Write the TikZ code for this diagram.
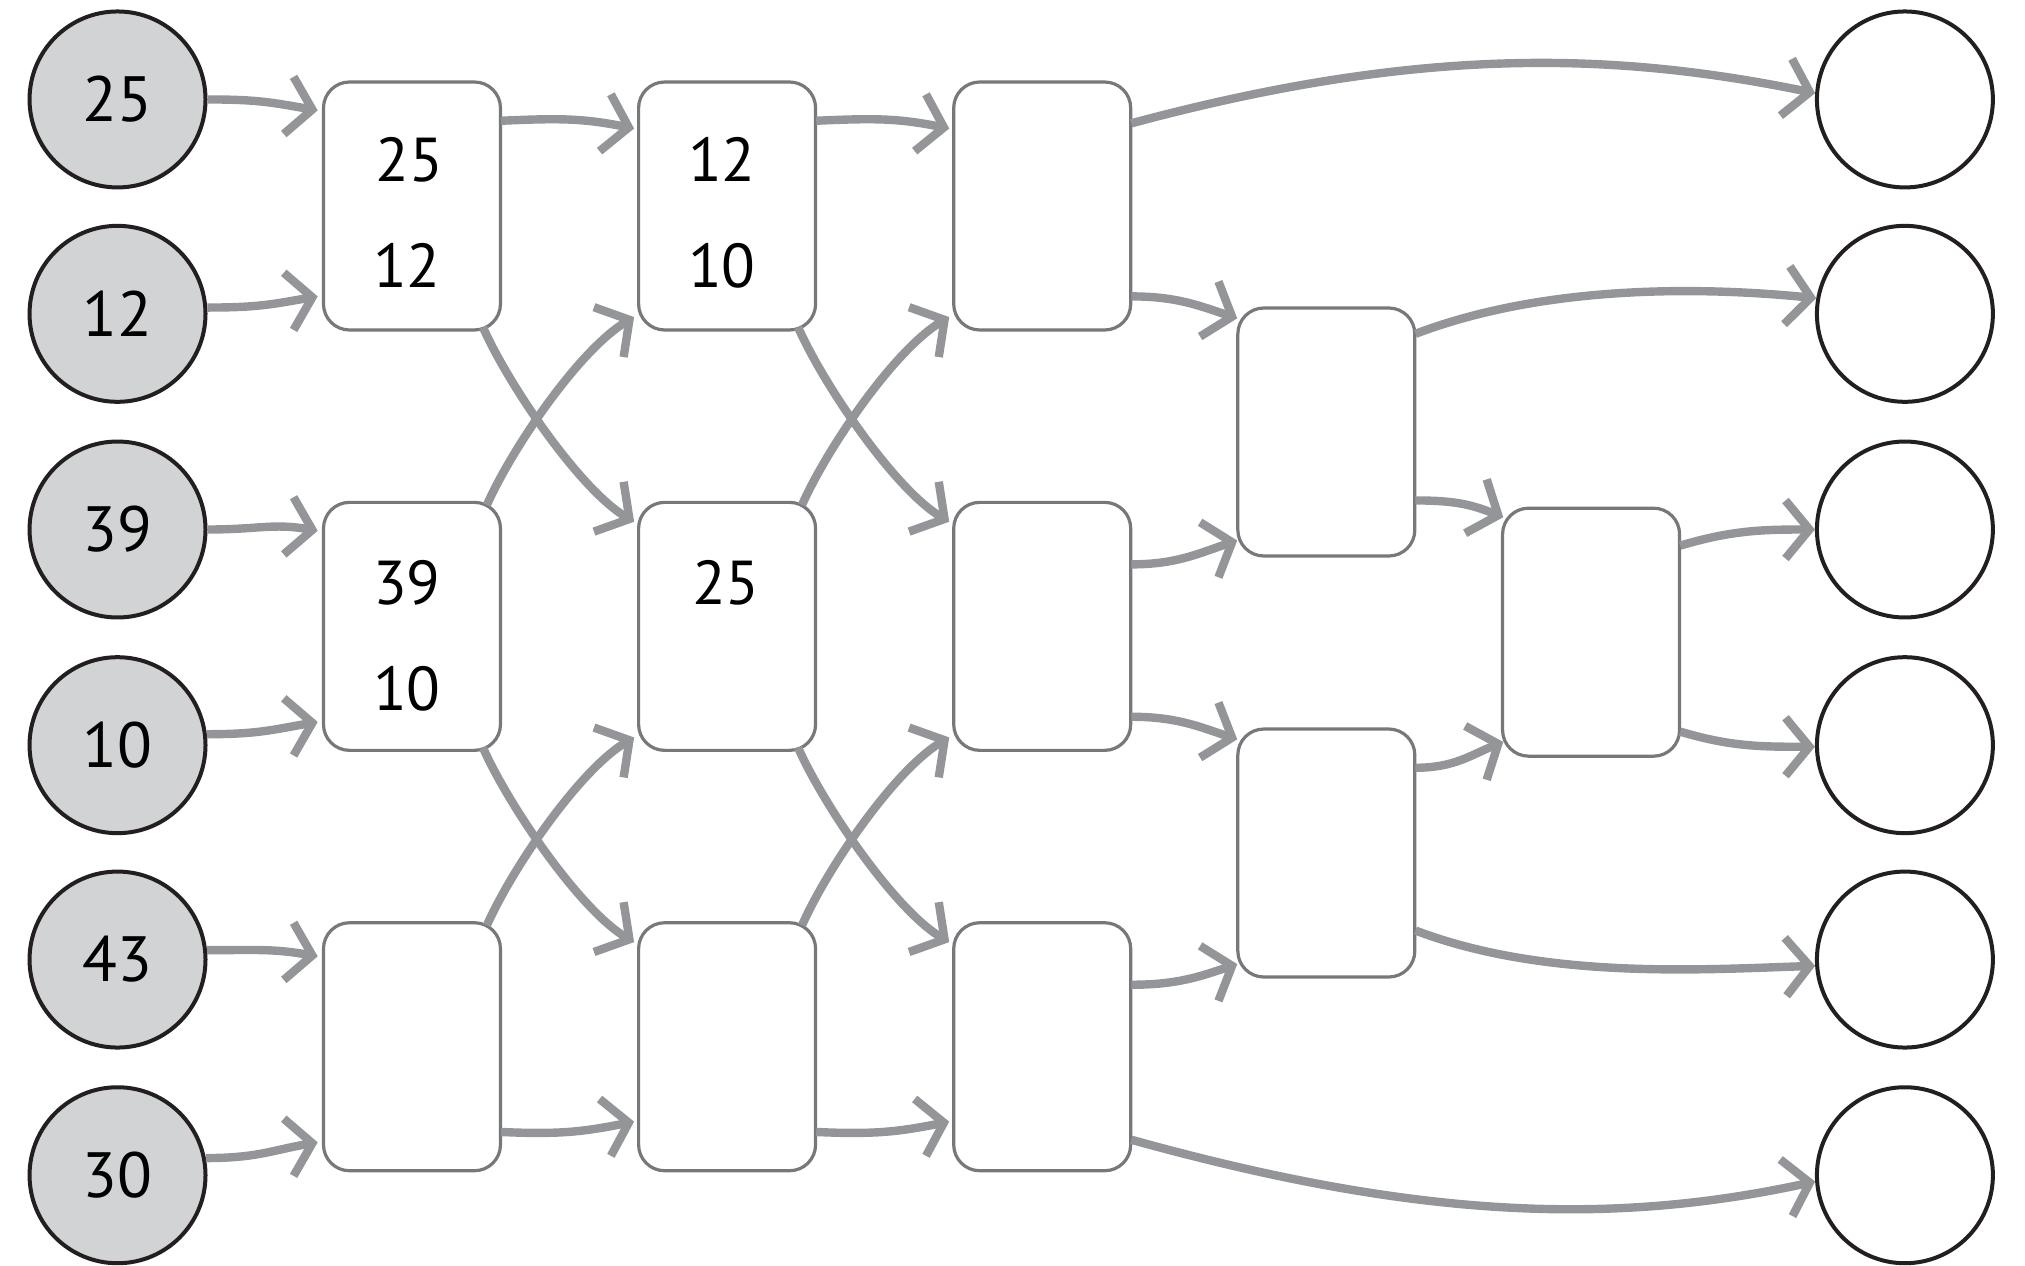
\documentclass[tikz,border=0pt]{standalone}
\usepackage{fontspec}
\setmainfont{PT Sans}
\usetikzlibrary{arrows.meta,calc}
\definecolor{arr}{HTML}{939598}
\definecolor{boxc}{HTML}{77787B}
\definecolor{cfill}{HTML}{D1D3D4}
\definecolor{cline}{HTML}{231F20}
\begin{document}
\begin{tikzpicture}[x=0.6458pt,y=-0.6458pt,
  inball/.style={circle,draw=cline,line width=2pt,fill=cfill,minimum size=88pt,inner sep=0pt,font=\fontsize{32}{36}\selectfont},
  outball/.style={circle,draw=cline,line width=2pt,fill=white,minimum size=88pt,inner sep=0pt},
  sbox/.style={rectangle,rounded corners=13pt,draw=boxc,line width=1.6pt,fill=white,minimum width=88.5pt,minimum height=124pt,inner sep=0pt},
  num/.style={font=\fontsize{31}{36}\selectfont,inner sep=0pt},
  conn/.style={draw=arr,line width=4.2pt,-{Straight Barb[length=12pt,width=29pt]}}]
\useasboundingbox (0,0) rectangle (1568,980);
% input circles
\node[inball] (in1) at (91,77) {25};
\node[inball] (in2) at (91,243) {12};
\node[inball] (in3) at (91,410) {39};
\node[inball] (in4) at (91,577) {10};
\node[inball] (in5) at (91,743) {43};
\node[inball] (in6) at (91,910) {30};
% output circles
\node[outball] (out1) at (1475,77) {};
\node[outball] (out2) at (1475,243) {};
\node[outball] (out3) at (1475,410) {};
\node[outball] (out4) at (1475,577) {};
\node[outball] (out5) at (1475,743) {};
\node[outball] (out6) at (1475,910) {};
% boxes
\node[sbox] (a1) at (319,159.5) {};
\node[sbox] (a2) at (319,485) {};
\node[sbox] (a3) at (319,810.5) {};
\node[sbox] (b1) at (563,159.5) {};
\node[sbox] (b2) at (563,485) {};
\node[sbox] (b3) at (563,810.5) {};
\node[sbox] (c1) at (807,159.5) {};
\node[sbox] (c2) at (807,485) {};
\node[sbox] (c3) at (807,810.5) {};
\node[sbox] (d1) at (1027,334.5) {};
\node[sbox] (d2) at (1027,660.5) {};
\node[sbox] (e1) at (1232,489.5) {};
% box texts
\node[num] (ta1) at ($(a1)+(-2,-36)$) {25};
\node[num] (ta2) at ($(a1)+(-4,46)$) {12};
\node[num] (tb1) at ($(b1)+(-4,-36)$) {12};
\node[num] (tb2) at ($(b1)+(-4,46)$) {10};
\node[num] (tc1) at ($(a2)+(-4,-34)$) {39};
\node[num] (tc2) at ($(a2)+(-4,48)$) {10};
\node[num] (td1) at ($(b2)+(-1,-34)$) {25};
% inputs to first column
\draw[conn] (in1.0) .. controls +(40,0) and +(-35,-6) .. ($(a1)+(-73,-74)$);
\draw[conn] (in2.4) .. controls +(40,0) and +(-35,6) .. ($(a1)+(-73,70)$);
\draw[conn] (in3.0) .. controls +(40,0) and +(-35,-6) .. ($(a2)+(-73,-74)$);
\draw[conn] (in4.7) .. controls +(40,0) and +(-35,6) .. ($(a2)+(-73,74)$);
\draw[conn] (in5.6) .. controls +(40,0) and +(-35,-6) .. ($(a3)+(-73,-70)$);
\draw[conn] (in6.11) .. controls +(40,0) and +(-35,6) .. ($(a3)+(-73,74)$);
% column to column (butterfly)
\foreach \p/\q in {a/b,b/c} {
  \draw[conn] ($(\p1)+(69,-66)$) .. controls +(45,-2) and +(-40,-8) .. ($(\q1)+(-72,-60)$);
  \draw[conn] ($(\p3)+(69,66)$) .. controls +(45,2) and +(-40,8) .. ($(\q3)+(-72,58)$);
  \draw[conn] ($(\p1)+(55,94)$) .. controls +(20,45) and +(-42,-25) .. ($(\q2)+(-72,-81)$);
  \draw[conn] ($(\p2)+(55,94)$) .. controls +(20,45) and +(-42,-25) .. ($(\q3)+(-72,-81)$);
  \draw[conn] ($(\p2)+(58,-94)$) .. controls +(20,-45) and +(-42,25) .. ($(\q1)+(-72,86)$);
  \draw[conn] ($(\p3)+(58,-94)$) .. controls +(20,-45) and +(-42,25) .. ($(\q2)+(-72,86)$);
}
% third column onwards
\draw[conn] ($(c1)+(69,-64)$) .. controls +(223,-60) and +(-156,-32) .. (out1.176);
\draw[conn] ($(c3)+(69,72)$) .. controls +(223,62) and +(-156,34) .. (out6.184);
\draw[conn] ($(c1)+(69,70)$) .. controls +(35,0) and +(-30,-10) .. ($(d1)+(-69,-88)$);
\draw[conn] ($(c2)+(69,-48)$) .. controls +(35,0) and +(-30,10) .. ($(d1)+(-69,84)$);
\draw[conn] ($(c2)+(69,70)$) .. controls +(35,0) and +(-30,-10) .. ($(d2)+(-69,-88)$);
\draw[conn] ($(c3)+(69,-48)$) .. controls +(35,0) and +(-30,10) .. ($(d2)+(-69,86)$);
\draw[conn] ($(d1)+(69,-76)$) .. controls +(100,-38) and +(-90,-9) .. (out2.170);
\draw[conn] ($(d2)+(69,60)$) .. controls +(100,38) and +(-90,3) .. (out5.184);
\draw[conn] ($(d1)+(69,53)$) .. controls +(30,0) and +(-25,-10) .. ($(e1)+(-68,-89)$);
\draw[conn] ($(d2)+(69,-66)$) .. controls +(30,0) and +(-25,10) .. ($(e1)+(-68,85)$);
\draw[conn] ($(e1)+(69,-67)$) .. controls +(40,-12) and +(-40,0) .. (out3.180);
\draw[conn] ($(e1)+(69,77)$) .. controls +(40,12) and +(-40,0) .. (out4.181);
\end{tikzpicture}
\end{document}
